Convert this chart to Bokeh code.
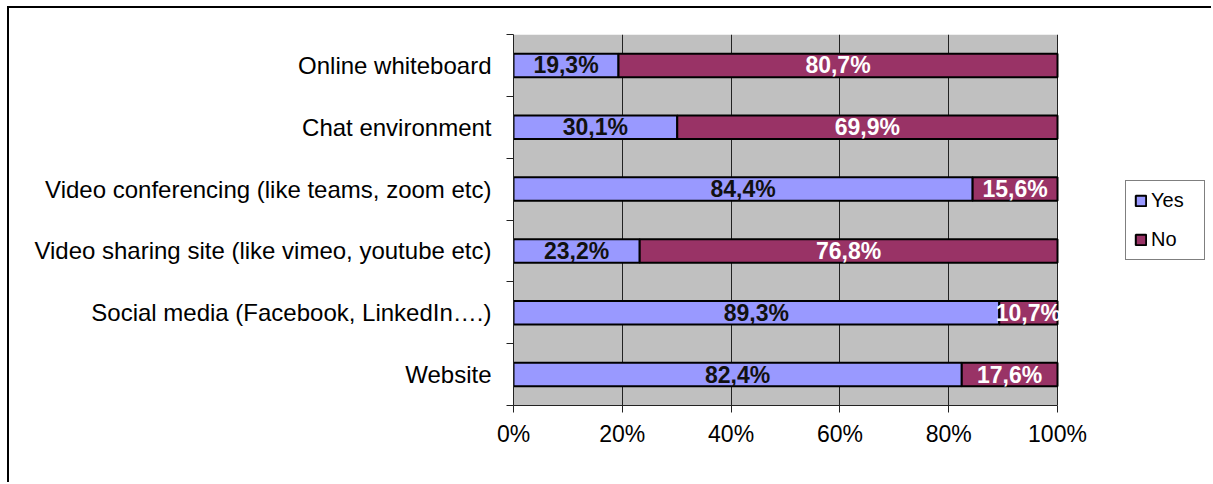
from bokeh.plotting import figure
from bokeh.models import ColumnDataSource, FixedTicker, Legend, LegendItem, Range1d, BoxAnnotation
from bokeh.core.properties import value
from bokeh.embed import file_html
from bokeh.resources import INLINE

# Data (bottom to top)
categories = [
    "Website",
    "Social media (Facebook, LinkedIn\u2026.)",
    "Video sharing site (like vimeo, youtube etc)",
    "Video conferencing (like teams, zoom etc)",
    "Chat environment",
    "Online whiteboard",
]
yes_pct = [82.4, 89.3, 23.2, 84.4, 30.1, 19.3]
no_pct = [17.6, 10.7, 76.8, 15.6, 69.9, 80.7]
series = ["Yes", "No"]
x_ticks = [0, 20, 40, 60, 80, 100]
x_tick_labels = ["0%", "20%", "40%", "60%", "80%", "100%"]

YES_COLOR = "#9999FF"
NO_COLOR = "#993366"
FONT = "Liberation Sans"

n = len(categories)
ypos = [i + 0.5 for i in range(n)]


def fmt(v):
    return f"{v:.1f}".replace(".", ",") + "%"


src = ColumnDataSource(dict(
    y=ypos,
    Yes=yes_pct,
    No=no_pct,
    yes_mid=[v / 2 for v in yes_pct],
    no_mid=[a + b / 2 for a, b in zip(yes_pct, no_pct)],
    yes_lbl=[fmt(v) for v in yes_pct],
    no_lbl=[fmt(v) for v in no_pct],
))

# layout: plot area (0..100 %) is 544 px wide; the frame extends further right
# to host the legend
W, H = 1204, 476
ML, MR, MT, MB = 504, 4, 26, 79
frame_w = W - ML - MR
x_max = 100.0 * frame_w / 544.0

p = figure(
    width=W, height=H,
    output_backend="svg", toolbar_location=None,
    x_range=Range1d(0, x_max), y_range=Range1d(0, n),
    min_border_left=ML, min_border_right=MR,
    min_border_top=MT, min_border_bottom=MB,
)
p.styles = {
    "border-top": "2px solid black",
    "border-left": "2px solid black",
    "margin-left": "7px",
    "margin-top": "6px",
}

p.background_fill_color = "white"
p.border_fill_color = "white"
p.outline_line_color = None

# grey plot area
p.add_layout(BoxAnnotation(left=0, right=100, fill_color="#C0C0C0", fill_alpha=1,
                           line_color=None, level="image"))

renderers = p.hbar_stack(
    series, y="y", height=0.38, source=src,
    fill_color=[YES_COLOR, NO_COLOR], line_color="black", line_width=2,
)

p.text(x="yes_mid", y="y", text="yes_lbl", source=src,
       text_align="center", text_baseline="middle",
       text_font=value(FONT), text_font_size="23px", text_font_style="bold",
       text_color="#111111")
p.text(x="no_mid", y="y", text="no_lbl", source=src,
       text_align="center", text_baseline="middle",
       text_font=value(FONT), text_font_size="23px", text_font_style="bold",
       text_color="white")

# Grid
p.xgrid.ticker = FixedTicker(ticks=x_ticks[1:])
p.xgrid.grid_line_color = "#222222"
p.xgrid.grid_line_width = 1
p.xgrid.level = "underlay"
p.ygrid.visible = False

# X axis
p.xaxis.ticker = FixedTicker(ticks=x_ticks)
p.xaxis.bounds = (0, 100)
p.xaxis.major_label_overrides = {t: l for t, l in zip(x_ticks, x_tick_labels)}
p.xaxis.axis_line_color = "#222222"
p.xaxis.major_tick_line_color = "#222222"
p.xaxis.major_tick_out = 7
p.xaxis.major_tick_in = 0
p.xaxis.minor_tick_line_color = None
p.xaxis.major_label_standoff = 8
p.xaxis.major_label_text_font = FONT
p.xaxis.major_label_text_font_size = "23px"
p.xaxis.major_label_text_color = "black"

# Y axis
p.yaxis.ticker = FixedTicker(ticks=ypos, minor_ticks=list(range(n + 1)))
p.yaxis.major_label_overrides = {y: c for y, c in zip(ypos, categories)}
p.yaxis.axis_line_color = "#222222"
p.yaxis.major_tick_out = 0
p.yaxis.major_tick_in = 0
p.yaxis.minor_tick_out = 7
p.yaxis.minor_tick_in = 0
p.yaxis.minor_tick_line_color = "#222222"
p.yaxis.major_label_standoff = 15
p.yaxis.major_label_text_font = FONT
p.yaxis.major_label_text_font_size = "24px"
p.yaxis.major_label_text_color = "black"

legend = Legend(
    items=[LegendItem(label=s, renderers=[r]) for s, r in zip(series, renderers)],
    location=(612, 145),
    orientation="vertical",
    margin=0,
    padding=8,
    spacing=16,
    glyph_width=13,
    glyph_height=13,
    label_height=23,
    label_width=45,
    label_standoff=4,
    label_text_font=FONT,
    label_text_font_size="20px",
    label_text_color="black",
    border_line_color="black",
    border_line_width=1,
    background_fill_color="white",
    background_fill_alpha=1,
)
p.add_layout(legend)

open("out.html", "w").write(file_html(p, INLINE))
